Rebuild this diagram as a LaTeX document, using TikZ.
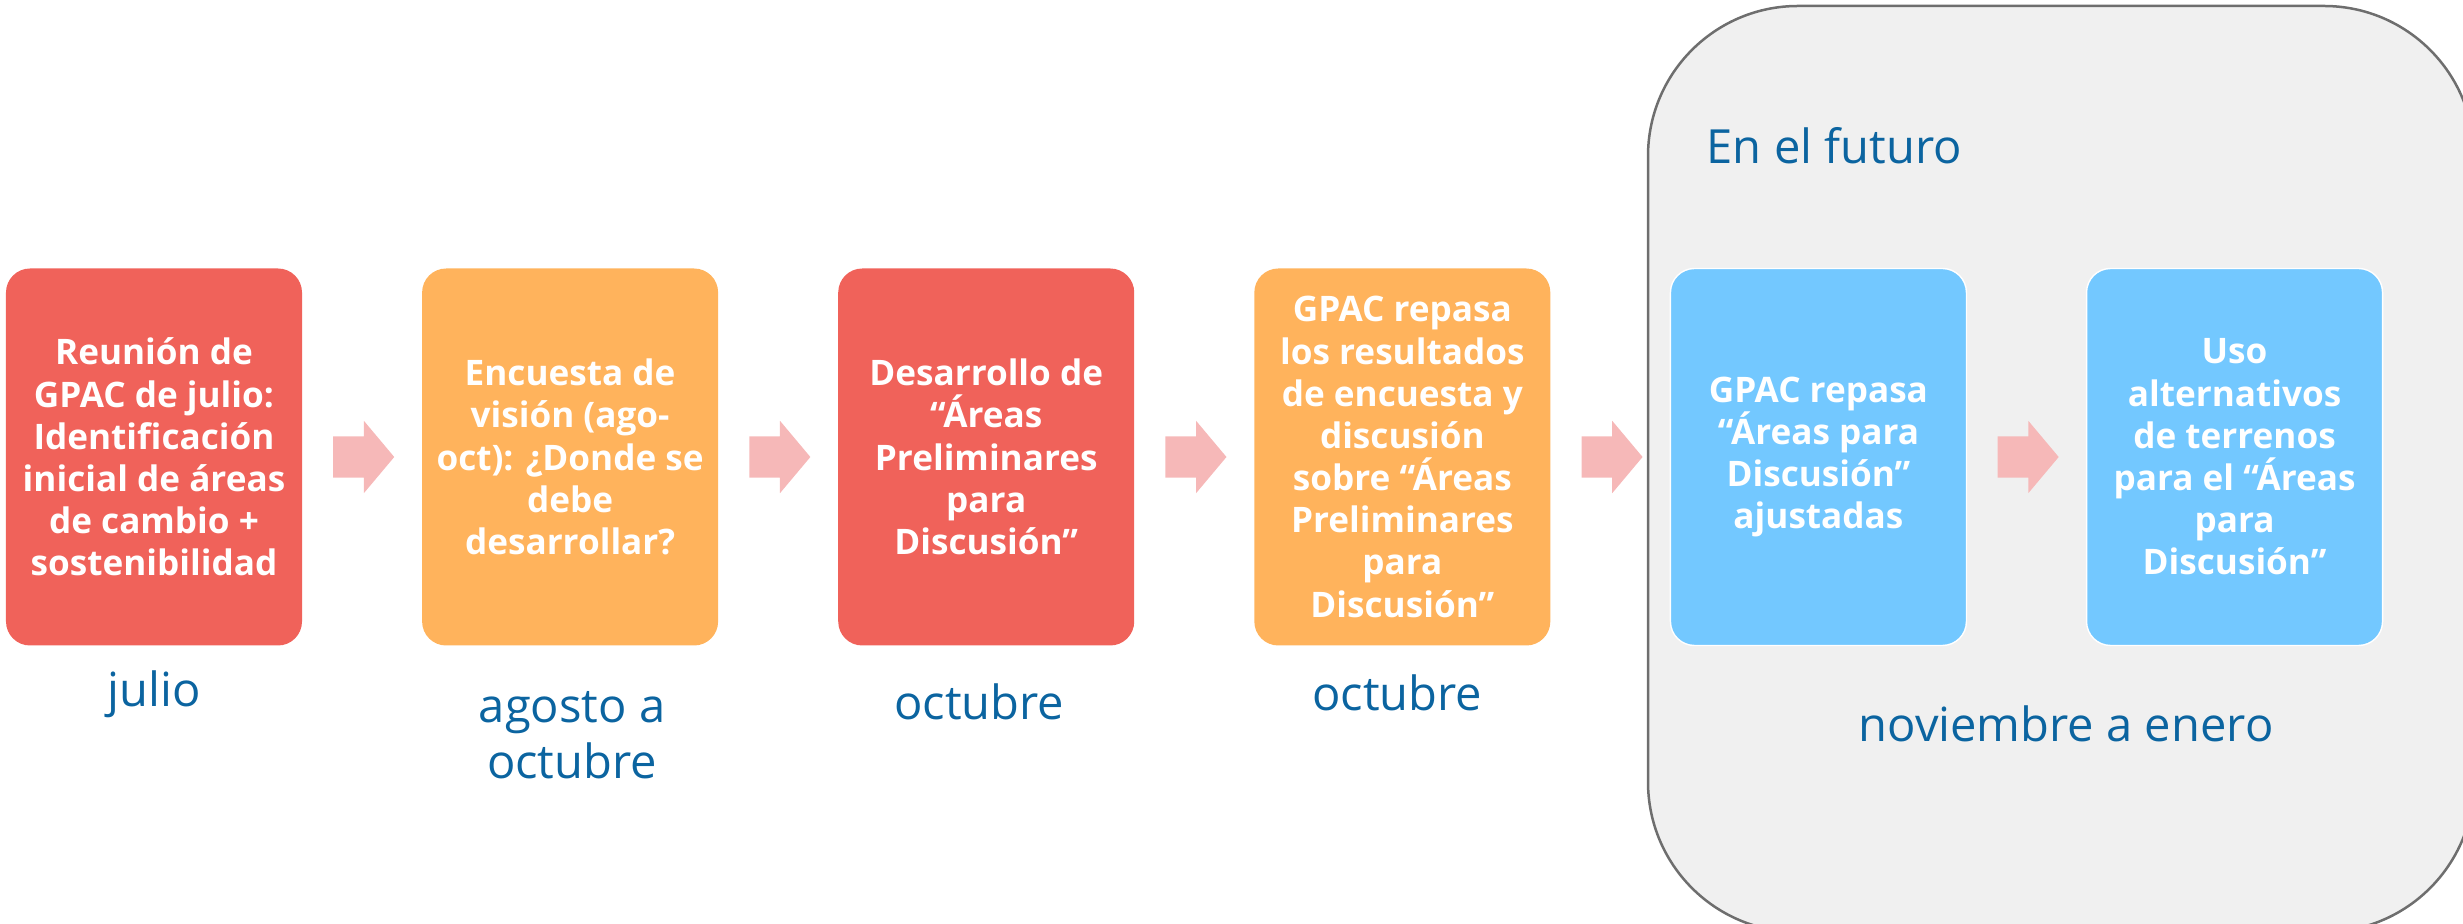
\documentclass[tikz,border=0pt]{standalone}
\usepackage{fontspec}
\setmainfont{Open Sans}
\usetikzlibrary{positioning,shapes.arrows,calc}

\definecolor{rojo}{HTML}{F0625A}
\definecolor{naranja}{HTML}{FFB35C}
\definecolor{celeste}{HTML}{73C8FF}
\definecolor{rosa}{HTML}{F6B8B8}
\definecolor{azul}{HTML}{0B64A0}
\definecolor{grisfondo}{HTML}{F0F0F0}
\definecolor{grisborde}{HTML}{6E6E6E}

\tikzset{
  etapa/.style={rounded corners=0.24cm, minimum width=2.96cm, minimum height=3.77cm,
    text=white, align=center, inner sep=0pt,
    font=\fontsize{10}{12}\selectfont\bfseries},
  flecha/.style={single arrow, fill=rosa, minimum height=0.61cm,
    text height=0.2cm, text depth=0.2cm, text width=0cm, xshift=-0.07cm,
    single arrow head extend=0.155cm, single arrow tip angle=100, inner sep=0pt},
  fecha/.style={text=azul, align=center, inner sep=0pt,
    font=\fontsize{13.4}{16}\selectfont},
}

\begin{document}
\begin{tikzpicture}[node distance=1.187cm]
  \useasboundingbox (0,0) rectangle (24.63,9.24);
  % el futuro
  \draw[fill=grisfondo, draw=grisborde, line width=0.025cm, rounded corners=1.5cm]
    (16.48,9.18) rectangle (24.74,-0.08);
  \node[fecha, anchor=west] (futuro) at (17.06,7.78) {En el futuro};

  % etapas
  \node[etapa, fill=rojo] (reunion) at (1.54,4.67)
    {Reunión de\\GPAC de julio:\\Identificación\\inicial de áreas\\de cambio +\\sostenibilidad};
  \node[etapa, fill=naranja, right=of reunion] (encuesta)
    {Encuesta de\\visión (ago-\\oct): ¿Donde se\\debe\\desarrollar?};
  \node[etapa, fill=rojo, right=of encuesta] (desarrollo)
    {Desarrollo de\\“Áreas\\Preliminares\\para\\Discusión”};
  \node[etapa, fill=naranja, right=of desarrollo] (repaso)
    {GPAC repasa\\los resultados\\de encuesta y\\discusión\\sobre “Áreas\\Preliminares\\para\\Discusión”};
  \node[etapa, fill=celeste, draw=white, right=of repaso] (ajuste)
    {GPAC repasa\\“Áreas para\\Discusión”\\ajustadas};
  \node[etapa, fill=celeste, draw=white, right=of ajuste] (uso)
    {Uso\\alternativos\\de terrenos\\para el “Áreas\\para\\Discusión”};

  % flechas
  \node[flecha] (f1) at ($(reunion.east)!0.5!(encuesta.west)$) {};
  \node[flecha] (f2) at ($(encuesta.east)!0.5!(desarrollo.west)$) {};
  \node[flecha] (f3) at ($(desarrollo.east)!0.5!(repaso.west)$) {};
  \node[flecha] (f4) at ($(repaso.east)!0.5!(ajuste.west)$) {};
  \node[flecha] (f5) at ($(ajuste.east)!0.5!(uso.west)$) {};

  % fechas
  \node[fecha] (julio) at ($(reunion.south)+(0,-0.48)$) {julio};
  \node[fecha] (agosto) at ($(encuesta.south)+(0.02,-0.89)$) {agosto a\\octubre};
  \node[fecha] (octubre) at ($(desarrollo.south)+(-0.07,-0.56)$) {octubre};
  \node[fecha] (octubredos) at ($(repaso.south)+(-0.05,-0.47)$) {octubre};
  \node[fecha] (noviembre) at (20.66,2.00) {noviembre a enero};
\end{tikzpicture}
\end{document}
